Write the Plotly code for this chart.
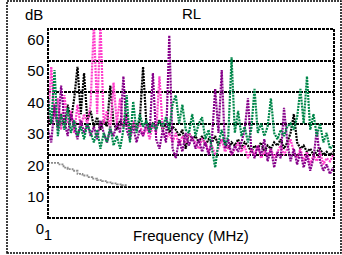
import plotly.graph_objects as go

# frequency grid (MHz)
freq = [1 + 4 * i for i in range(88)]

pink = [30, 48, 32, 38, 28, 39, 30, 34, 27, 36, 29, 33, 30, 36, 62, 33, 62, 30, 34, 28,
        43, 30, 38, 29, 32, 27, 31, 28, 30, 26, 29, 25, 30, 27, 45, 28, 25, 27, 24, 27,
        23, 26, 24, 27, 25, 24, 22, 25, 24, 21, 23, 20, 22, 25, 21, 23, 20, 22, 24, 21,
        23, 19, 22, 20, 23, 19, 21, 20, 22, 19, 21, 23, 20, 22, 25, 21, 19, 22, 18, 21,
        17, 20, 18, 21, 17, 19, 18, 20]

black = [32, 30, 35, 29, 33, 30, 36, 31, 38, 48, 33, 46, 31, 34, 29, 32, 28, 31, 29, 42,
         30, 28, 31, 29, 33, 27, 30, 28, 31, 48, 30, 28, 30, 29, 31, 28, 30, 27, 29, 28,
         26, 28, 22, 27, 25, 26, 24, 26, 23, 25, 24, 26, 23, 25, 24, 22, 24, 23, 25, 22,
         24, 23, 21, 23, 22, 24, 21, 23, 22, 24, 23, 25, 22, 24, 27, 33, 24, 22, 23, 21,
         22, 20, 21, 22, 20, 21, 20, 21]

purple = [28, 24, 36, 28, 42, 31, 26, 33, 29, 25, 31, 27, 30, 26, 29, 25, 31, 27, 24, 28,
          26, 30, 27, 45, 28, 25, 29, 24, 28, 26, 30, 27, 46, 25, 22, 28, 24, 58, 22, 19,
          25, 21, 27, 23, 26, 22, 25, 21, 24, 20, 25, 41, 27, 47, 22, 25, 20, 23, 21, 24,
          28, 38, 22, 19, 23, 20, 25, 18, 22, 16, 21, 19, 35, 24, 18, 22, 17, 21, 16, 20,
          15, 19, 28, 18, 15, 17, 14, 16]

green = [38, 30, 47, 26, 33, 28, 35, 27, 31, 26, 29, 25, 30, 27, 24, 28, 22, 27, 24, 29,
         23, 26, 22, 28, 39, 24, 37, 27, 33, 29, 31, 27, 30, 28, 31, 29, 32, 28, 36, 39,
         30, 36, 28, 27, 33, 26, 30, 32, 25, 28, 22, 16, 24, 28, 23, 26, 51, 27, 34, 26,
         29, 24, 28, 41, 27, 30, 26, 29, 38, 27, 25, 28, 26, 29, 30, 28, 32, 41, 30, 45,
         28, 33, 26, 30, 24, 27, 22, 23]

limit_freq = [1, 8, 15, 20, 25, 31, 37, 43, 49, 55, 61, 67, 73, 79, 85, 91, 97]
limit_db = [17.5, 17.5, 17, 16, 15.5, 15, 14, 13.5, 13, 12.5, 12, 11.7, 11.3, 11, 10.7, 10.4, 10]

y_ticks = [0, 10, 20, 30, 40, 50, 60]
x_ticks = [1, 350]
x_ticktext = ["1", "350"]

FONT = "Liberation Sans, Arial, sans-serif"
FS = 15

fig = go.Figure()
fig.add_trace(go.Scatter(x=limit_freq, y=limit_db, mode="lines", line_shape="hv",
                         line=dict(color="#8c8c8c", width=1.8, dash="2px,1px")))
series = [(black, "#000000"), (pink, "#ff3fcc"), (purple, "#86008a"), (green, "#00874a")]
for vals, col in series:
    fig.add_trace(go.Scatter(x=freq, y=vals, mode="lines",
                             line=dict(color=col, width=2.2, dash="2px,1px")))

fig.update_layout(
    width=342, height=255,
    margin=dict(l=48, r=8, t=29, b=37),
    paper_bgcolor="white", plot_bgcolor="white",
    showlegend=False,
    font=dict(family=FONT, size=FS, color="black"),
    xaxis=dict(range=[1, 350], tickvals=x_ticks, ticktext=x_ticktext,
               showgrid=False, zeroline=False, showline=False, ticks="",
               ticklabelstandoff=6, automargin=False, fixedrange=True),
    yaxis=dict(range=[0, 60], tickvals=y_ticks, showgrid=True,
               gridcolor="black", gridwidth=2, griddash="3px,1px",
               zeroline=False, showline=False, ticks="",
               ticklabelposition="outside bottom", ticklabelstandoff=3,
               automargin=False, fixedrange=True),
    shapes=[
        dict(type="rect", xref="paper", yref="paper", x0=0, x1=1, y0=0, y1=1,
             line=dict(color="black", width=2, dash="3px,1px")),
        dict(type="rect", xref="paper", yref="paper",
             x0=(7 - 48) / 286, x1=(341 - 48) / 286,
             y0=(218 - 253) / 189, y1=(218 - 1) / 189,
             line=dict(color="black", width=1.5, dash="2px,1px")),
    ],
    annotations=[
        dict(text="RL", xref="paper", yref="paper", x=0.5, y=(218 - 13.5) / 189,
             xanchor="center", yanchor="middle", showarrow=False, font=dict(size=FS)),
        dict(text="dB", xref="paper", yref="paper", x=(45 - 48) / 286, y=(218 - 14) / 189,
             xanchor="right", yanchor="middle", showarrow=False, font=dict(size=FS)),
        dict(text="Frequency (MHz)", xref="paper", yref="paper", x=0.5, y=(218 - 235) / 189,
             xanchor="center", yanchor="middle", showarrow=False, font=dict(size=FS)),
    ],
)

fig.write_html("out.html", config={"displayModeBar": False},
               post_script="document.body.style.margin='0';document.body.style.overflow='hidden';")
